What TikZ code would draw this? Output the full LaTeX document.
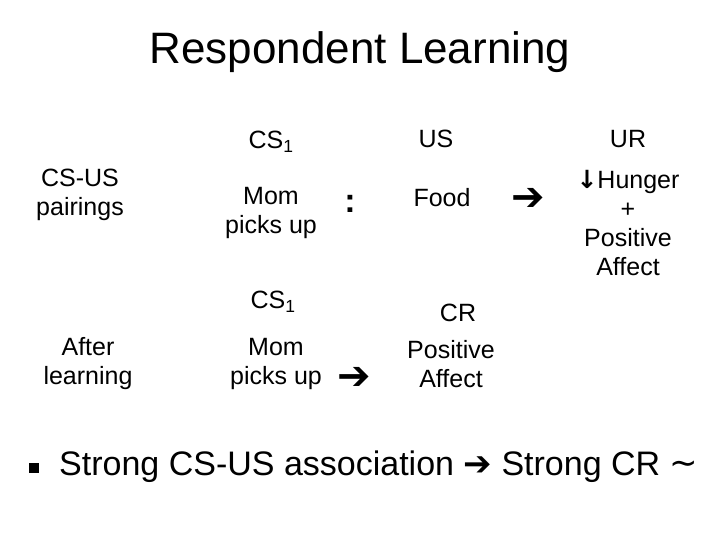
\documentclass[tikz,border=0pt]{standalone}
\usepackage{fontspec}
\setmainfont{Liberation Sans}
\newfontfamily\dv{DejaVu Sans}
\tikzset{x=1pt,y=-1pt,
 body/.style={font=\fontsize{25}{29}\selectfont, align=center, inner sep=0pt},
 arr/.style={font=\fontsize{40}{40}\selectfont\dv\bfseries, inner sep=0pt},
 big/.style={font=\fontsize{34}{38}\selectfont, inner sep=0pt, anchor=west}}
\begin{document}
\begin{tikzpicture}
\useasboundingbox (0,0) rectangle (720,540);
\node[font=\fontsize{44}{48}\selectfont, inner sep=0pt] (title) at (360,52) {Respondent Learning};
\node[body] (cs1a) at (271,142) {CS\textsubscript{1}};
\node[body] (us) at (436,139) {US};
\node[body] (ur) at (628,139) {UR};
\node[body] (pair) at (80,195) {CS-US\\pairings};
\node[body] (mom1) at (271,213) {Mom\\picks up};
\node[font=\fontsize{34}{34}\selectfont\bfseries, inner sep=0pt] (colon) at (350,204) {:};
\node[body] (food) at (442,198) {Food};
\node[arr] (arr1) at (528,199) {➔};
\node[body] (ur2) at (628,223) {{\dv\bfseries ↓}Hunger\\+\\Positive\\Affect};
\node[body] (cs1b) at (273,302) {CS\textsubscript{1}};
\node[body] (cr) at (458,313) {CR};
\node[body] (after) at (88,364) {After\\learning};
\node[body] (mom2) at (276,364) {Mom\\picks up};
\node[arr] (arr2) at (354,378) {➔};
\node[body] (pa) at (451,364) {Positive\\Affect};
\node[fill=black, minimum size=10pt, inner sep=0pt] (bul) at (34,468) {};
\node[big] (line) at (59,467) {Strong CS-US association {\dv\bfseries ➔} Strong CR {\dv\raisebox{0.05ex}{\textasciitilde}}};
\end{tikzpicture}
\end{document}
